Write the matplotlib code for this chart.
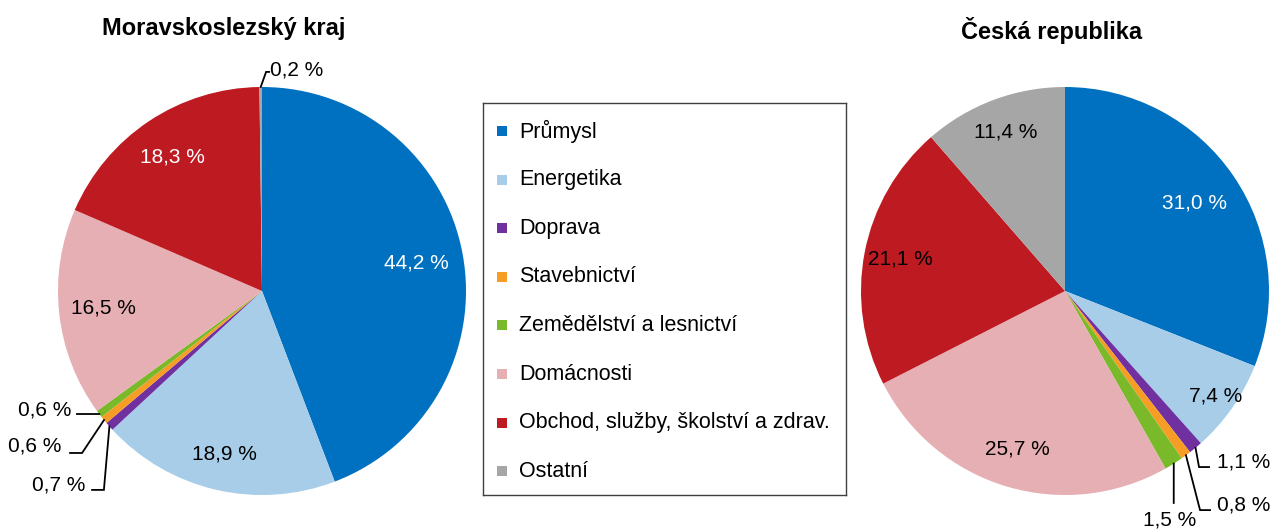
import numpy as np
import matplotlib
matplotlib.use("Agg")
import matplotlib.pyplot as plt
from matplotlib.patches import Rectangle

plt.rcParams['font.family'] = ['Liberation Sans', 'DejaVu Sans']

# data
categories = ["Průmysl", "Energetika", "Doprava", "Stavebnictví",
              "Zemědělství a lesnictví", "Domácnosti",
              "Obchod, služby, školství a zdrav.", "Ostatní"]
msk_values = [44.2, 18.9, 0.7, 0.6, 0.6, 16.5, 18.3, 0.2]
cr_values = [31.0, 7.4, 1.1, 0.8, 1.5, 25.7, 21.1, 11.4]
colors = ["#0070C0", "#A7CDE9", "#7030A0", "#F79D26",
          "#7AB929", "#E6AFB3", "#BE1A22", "#A6A6A6"]
titles = ["Moravskoslezský kraj", "Česká republika"]

W, H = 1271, 531
R = 204.0  # pie radius in px
HALF = 265
fig = plt.figure(figsize=(W / 100, H / 100), dpi=100)


def fmt(v):
    return f"{v:.1f}".replace(".", ",") + " %"


def pie_axes(cx, cy):
    ax = fig.add_axes([(cx - HALF) / W, (H - cy - HALF) / H, 2 * HALF / W, 2 * HALF / H])
    return ax


def draw_pie(ax, values, inside, outside, title, title_xy):
    wedges, _ = ax.pie(values, colors=colors, startangle=90, counterclock=False,
                       radius=1.0, wedgeprops=dict(linewidth=0))
    # pie() sets its own limits, fix the scale afterwards
    L = HALF / R
    ax.set_xlim(-L, L)
    ax.set_ylim(-L, L)
    ax.set_aspect('equal')
    ax.axis('off')
    # labels inside the wedges: index -> (radius factor, text color)
    for i, (rf, tc) in inside.items():
        w = wedges[i]
        a = np.deg2rad((w.theta1 + w.theta2) / 2)
        ax.text(rf * np.cos(a), rf * np.sin(a), fmt(values[i]), color=tc,
                fontsize=15, ha='center', va='center')
    # labels with leader lines: index -> (elbow, line end, text pos, ha)
    for i, (elbow, end, tpos, ha) in outside.items():
        w = wedges[i]
        a = np.deg2rad((w.theta1 + w.theta2) / 2)
        p = (np.cos(a), np.sin(a))
        ax.plot([p[0], elbow[0], end[0]], [p[1], elbow[1], end[1]],
                color='black', lw=1.3, clip_on=False, solid_joinstyle='miter')
        ax.text(tpos[0], tpos[1], fmt(values[i]), fontsize=15, ha=ha,
                va='center', clip_on=False)
    fig.text(title_xy[0] / W, 1 - title_xy[1] / H, title, fontsize=17,
             fontweight='bold', ha='center', va='center')


ax1 = pie_axes(262, 291)
draw_pie(ax1, msk_values,
         {0: (0.77, 'white'), 1: (0.82, 'black'), 5: (0.78, 'black'), 6: (0.79, 'white')},
         {7: ((0.02, 1.074), (0.035, 1.074), (0.04, 1.083), 'left'),
          4: ((-0.80, -0.603), (-0.907, -0.603), (-0.935, -0.583), 'right'),
          3: ((-0.882, -0.794), (-0.941, -0.794), (-0.985, -0.760), 'right'),
          2: ((-0.775, -0.975), (-0.833, -0.975), (-0.868, -0.951), 'right')},
         titles[0], (224, 28))

ax2 = pie_axes(1065, 291)
draw_pie(ax2, cr_values,
         {0: (0.77, 'white'), 1: (0.90, 'black'), 5: (0.81, 'black'),
          6: (0.82, 'black'), 7: (0.83, 'black')},
         {2: ((0.657, -0.863), (0.706, -0.863), (0.745, -0.838), 'left'),
          3: ((0.662, -1.074), (0.711, -1.074), (0.745, -1.049), 'left'),
          4: ((0.533, -1.039), (0.533, -1.039), (0.515, -1.123), 'center')},
         titles[1], (1052, 30))

# legend box
lx0, ly0, lx1, ly1 = 483, 103, 846, 495
lax = fig.add_axes([lx0 / W, (H - ly1) / H, (lx1 - lx0) / W, (ly1 - ly0) / H])
lax.set_xlim(0, lx1 - lx0)
lax.set_ylim(ly1 - ly0, 0)
lax.set_xticks([])
lax.set_yticks([])
for s in lax.spines.values():
    s.set_color('#404040')
    s.set_linewidth(1.0)
for k, (name, c) in enumerate(zip(categories, colors)):
    yy = 28 + k * 48.6
    lax.add_patch(Rectangle((14, yy - 5), 10, 10, color=c, lw=0))
    lax.text(36, yy, name, fontsize=15.5, va='center', ha='left')

fig.savefig("out.png", dpi=100)
